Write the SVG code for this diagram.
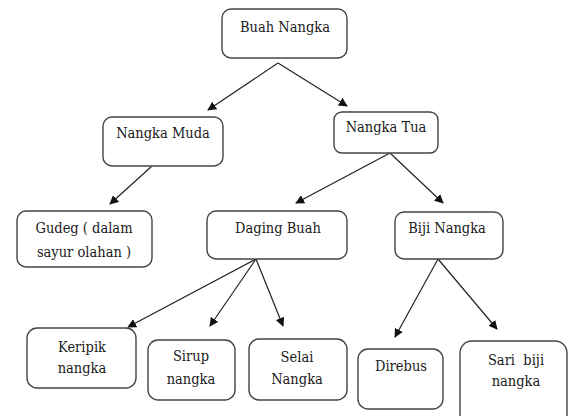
<svg xmlns="http://www.w3.org/2000/svg" width="569" height="416" viewBox="0 0 569 416">
<defs>
<style>
.box{fill:#fff;stroke:#444;stroke-width:1.4}
.t{font-family:'DejaVu Serif Condensed','DejaVu Serif',serif;font-stretch:condensed;font-size:14.5px;fill:#1a1a1a;text-anchor:middle}
.c{stroke:#222;stroke-width:1.2;fill:none;marker-end:url(#ah)}
</style>
<marker id="ah" viewBox="0 0 10 10" refX="9" refY="5" markerWidth="9" markerHeight="9" markerUnits="userSpaceOnUse" orient="auto">
<path d="M0,0 L10,5 L0,10 z" fill="#111"/>
</marker>
</defs>
<rect width="569" height="416" fill="#fff"/>
<g id="connectors">
<line class="c" x1="278" y1="63" x2="208" y2="110"/>
<line class="c" x1="278" y1="63" x2="347" y2="106"/>
<line class="c" x1="152" y1="166" x2="110" y2="204"/>
<line class="c" x1="390" y1="153" x2="296" y2="203"/>
<line class="c" x1="390" y1="153" x2="443" y2="203"/>
<line class="c" x1="256" y1="259" x2="128" y2="327"/>
<line class="c" x1="256" y1="259" x2="210" y2="326"/>
<line class="c" x1="256" y1="259" x2="283" y2="326"/>
<line class="c" x1="438" y1="259" x2="395" y2="337"/>
<line class="c" x1="438" y1="259" x2="497" y2="329"/>
</g>
<g id="buah-nangka"><rect class="box" x="222" y="9" width="125" height="49" rx="9"/><text class="t" x="285" y="32">Buah Nangka</text></g>
<g id="nangka-muda"><rect class="box" x="103" y="117" width="120" height="49" rx="9"/><text class="t" x="163" y="138">Nangka Muda</text></g>
<g id="nangka-tua"><rect class="box" x="334" y="112" width="104" height="41" rx="8"/><text class="t" x="386" y="132">Nangka Tua</text></g>
<g id="gudeg"><rect class="box" x="17" y="211" width="135" height="56" rx="9"/><text class="t" x="84" y="233">Gudeg ( dalam</text><text class="t" x="84" y="257">sayur olahan )</text></g>
<g id="daging-buah"><rect class="box" x="207" y="211" width="140" height="48" rx="9"/><text class="t" x="278" y="233">Daging Buah</text></g>
<g id="biji-nangka"><rect class="box" x="395" y="212" width="108" height="47" rx="9"/><text class="t" x="447" y="233">Biji Nangka</text></g>
<g id="keripik"><rect class="box" x="27" y="328" width="109" height="60" rx="10"/><text class="t" x="82" y="352">Keripik</text><text class="t" x="82" y="373">nangka</text></g>
<g id="sirup"><rect class="box" x="148" y="340" width="87" height="60" rx="10"/><text class="t" x="191" y="361">Sirup</text><text class="t" x="191" y="384">nangka</text></g>
<g id="selai"><rect class="box" x="249" y="339" width="98" height="61" rx="10"/><text class="t" x="297" y="362">Selai</text><text class="t" x="297" y="384">Nangka</text></g>
<g id="direbus"><rect class="box" x="358" y="349" width="85" height="60" rx="10"/><text class="t" x="401" y="371">Direbus</text></g>
<g id="sari-biji"><rect class="box" x="460" y="341" width="107" height="90" rx="12"/><text class="t" x="516" y="365" xml:space="preserve">Sari  biji</text><text class="t" x="516" y="386">nangka</text></g>
</svg>
